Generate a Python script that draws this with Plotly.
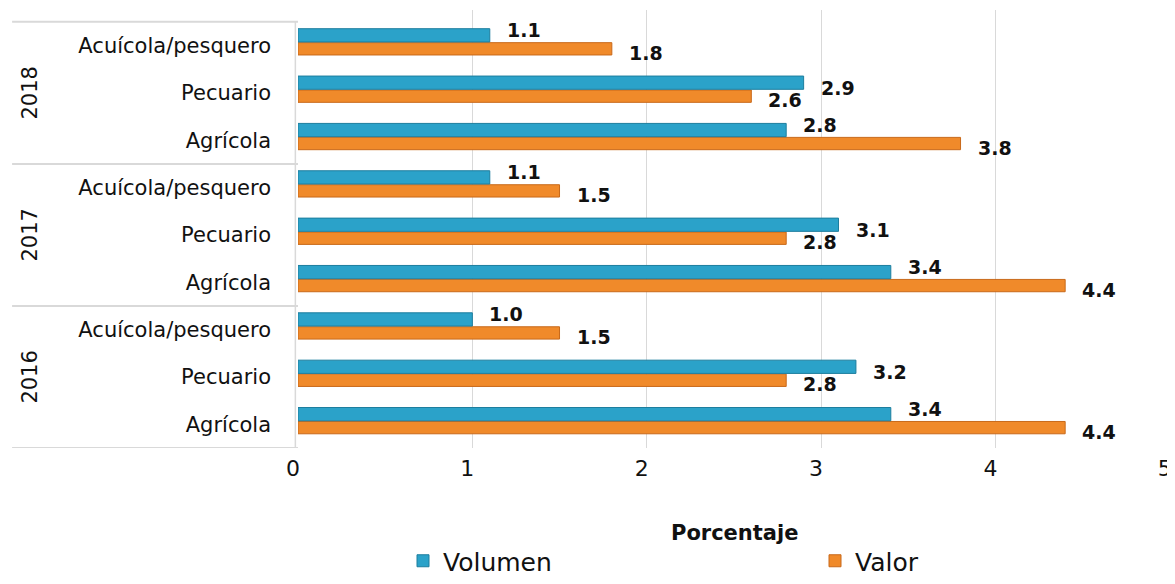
import plotly.graph_objects as go

years = ["2018", "2017", "2016"]
categories = ["Acuícola/pesquero", "Pecuario", "Agrícola"]
# values listed top to bottom: 2018 (Acuícola, Pecuario, Agrícola), 2017, 2016
volumen = [1.1, 2.9, 2.8, 1.1, 3.1, 3.4, 1.0, 3.2, 3.4]
valor = [1.8, 2.6, 3.8, 1.5, 2.8, 4.4, 1.5, 2.8, 4.4]
x_ticks = [0, 1, 2, 3, 4, 5]

BLUE = "#2ba2c9"
BLUE_EDGE = "#1d7e9e"
ORANGE = "#f08a2a"
ORANGE_EDGE = "#c8691a"
TEXT = "#111111"
GRID = "#d9d9d9"
FONT = "DejaVu Sans"

# the page body has a default 8px margin, so the figure is drawn 8px smaller
W, H = 1167, 576

n = len(volumen)
labels = [c for _ in years for c in categories]
pos = [n - 1 - i for i in range(n)]

B_OFF, B_W = 0.075, 0.28
O_OFF, O_W = -0.2, 0.26

fig = go.Figure()
fig.add_trace(go.Bar(
    y=pos, x=valor, orientation="h", name="Valor", legend="legend2",
    marker=dict(color=ORANGE, line=dict(color=ORANGE_EDGE, width=1)),
    offset=O_OFF, width=O_W,
))
fig.add_trace(go.Bar(
    y=pos, x=volumen, orientation="h", name="Volumen", legend="legend",
    marker=dict(color=BLUE, line=dict(color=BLUE_EDGE, width=1)),
    offset=B_OFF, width=B_W,
))

annotations = []
for p, vb, vo in zip(pos, volumen, valor):
    annotations.append(dict(
        x=vb, y=p + B_OFF + B_W / 2, xref="x", yref="y", text=f"<b>{vb:.1f}</b>",
        showarrow=False, xanchor="left", yanchor="middle", xshift=15,
        yshift=(-5 if vb > vo else 5),
        font=dict(family=FONT, size=19, color=TEXT),
    ))
    annotations.append(dict(
        x=vo, y=p + O_OFF + O_W / 2, xref="x", yref="y", text=f"<b>{vo:.1f}</b>",
        showarrow=False, xanchor="left", yanchor="middle", xshift=15, yshift=-4,
        font=dict(family=FONT, size=19, color=TEXT),
    ))

# year group labels
for gi, yr in enumerate(years):
    center = n - 1 - (gi * 3 + 1)
    annotations.append(dict(
        x=-0.306, y=center, xref="paper", yref="y", text=yr, textangle=-90,
        showarrow=False, xanchor="center", yanchor="middle",
        font=dict(family=FONT, size=21, color=TEXT),
    ))

annotations.append(dict(
    x=0.498, y=-0.194, xref="paper", yref="paper", text="<b>Porcentaje</b>",
    showarrow=False, xanchor="center", yanchor="middle",
    font=dict(family=FONT, size=21, color=TEXT),
))

shapes = []
for b in [n - 0.5, n - 3.5, n - 6.5, -0.5]:
    shapes.append(dict(type="line", xref="paper", yref="y", x0=-0.326, x1=0,
                       y0=b, y1=b, line=dict(color=GRID, width=2)))
shapes.append(dict(type="line", xref="paper", yref="y", x0=-0.003, x1=-0.003,
                   y0=-0.5, y1=n - 0.5, line=dict(color=GRID, width=1.5)))

legend_style = dict(
    orientation="h", yref="container", xref="container", y=0.0,
    xanchor="left", yanchor="bottom",
    font=dict(family=FONT, size=25, color=TEXT), bgcolor="rgba(0,0,0,0)",
)

fig.update_layout(
    width=W, height=H,
    margin=dict(l=290, r=0, t=2, b=136),
    paper_bgcolor="white", plot_bgcolor="white",
    barmode="overlay",
    showlegend=True,
    legend=dict(x=395 / W, **legend_style),
    legend2=dict(x=807 / W, **legend_style),
    annotations=annotations,
    shapes=shapes,
    font=dict(family=FONT, size=19, color=TEXT),
)
fig.update_xaxes(
    range=[0, 5.03], tickvals=x_ticks, ticktext=[str(t) for t in x_ticks],
    showgrid=True, gridcolor=GRID, gridwidth=1, zeroline=False,
    showline=False, ticks="", ticklabelstandoff=5, ticklabelshift=-5,
    ticklabeloverflow="allow", automargin=False,
    tickfont=dict(family=FONT, size=22, color=TEXT), fixedrange=True,
)
fig.update_yaxes(
    range=[-0.5, n - 0.25], tickvals=pos, ticktext=labels,
    showgrid=False, zeroline=False, showline=False, ticks="",
    ticklabelstandoff=26, automargin=False,
    tickfont=dict(family=FONT, size=21, color=TEXT), fixedrange=True,
)

fig.write_html("out.html")
